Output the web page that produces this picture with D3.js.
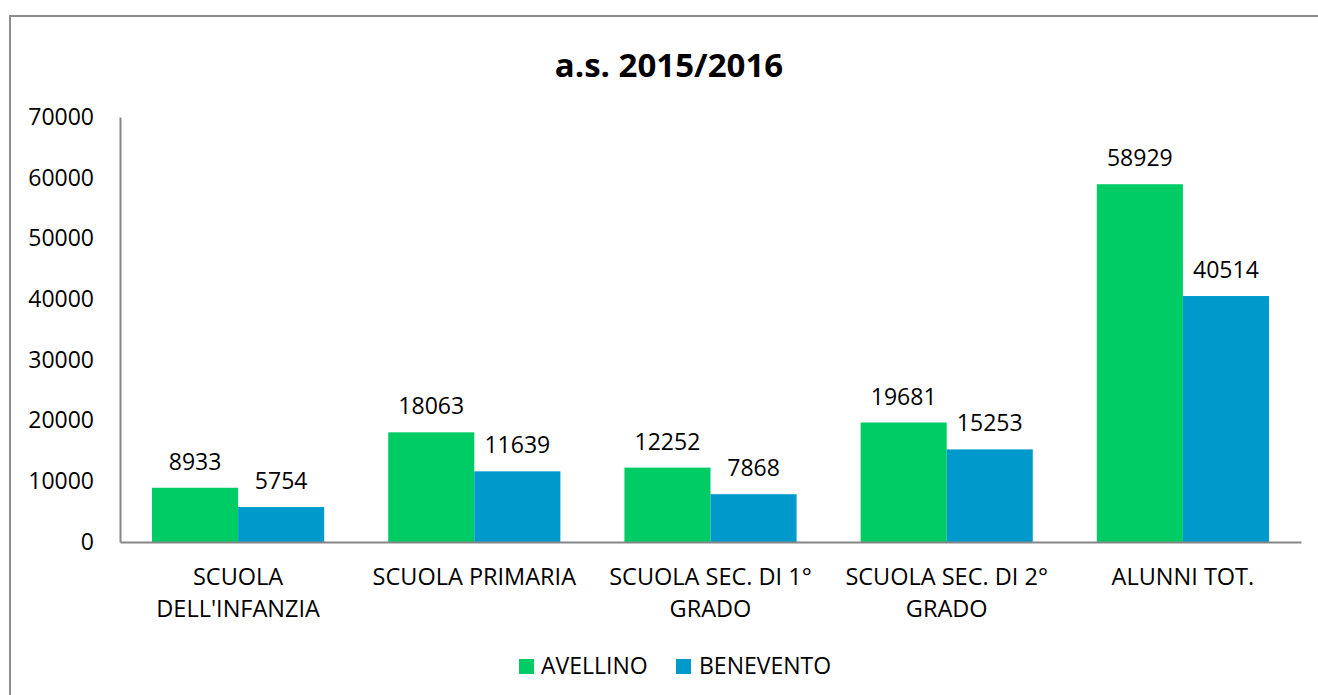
<!DOCTYPE html>
<html>
<head>
<meta charset="utf-8">
<script src="https://cdn.jsdelivr.net/npm/d3@7"></script>
<style>
  body { margin: 0; background: #fff; }
  svg text { font-family: "Open Sans", "Liberation Sans", sans-serif; fill: #000; }
</style>
</head>
<body>
<div id="wrapper"></div>
<script>
// data
const categories = [
  ["SCUOLA", "DELL'INFANZIA"],
  ["SCUOLA PRIMARIA"],
  ["SCUOLA SEC. DI 1°", "GRADO"],
  ["SCUOLA SEC. DI 2°", "GRADO"],
  ["ALUNNI TOT."],
];
const seriesNames = ["AVELLINO", "BENEVENTO"];
const avellino = [8933, 18063, 12252, 19681, 58929];
const benevento = [5754, 11639, 7868, 15253, 40514];
const yTicks = [0, 10000, 20000, 30000, 40000, 50000, 60000, 70000];
const title = "a.s. 2015/2016";

const colors = ["#00cc66", "#0099cc"];

function drawBars() {
  const width = 1318;
  const height = 695;
  const margin = { top: 117, right: 17, bottom: 153, left: 120 };
  const boundedWidth = width - margin.left - margin.right;
  const boundedHeight = height - margin.top - margin.bottom;

  const svg = d3
    .select("#wrapper")
    .append("svg")
    .attr("width", width)
    .attr("height", height);

  // outer chart border
  svg
    .append("rect")
    .attr("x", 10)
    .attr("y", 16)
    .attr("width", 1330)
    .attr("height", 720)
    .attr("fill", "none")
    .attr("stroke", "#8c8c8c")
    .attr("stroke-width", 2);

  svg
    .append("text")
    .attr("x", 669)
    .attr("y", 77)
    .attr("text-anchor", "middle")
    .style("font-weight", "bold")
    .style("font-size", "33px")
    .text(title);

  const bounds = svg
    .append("g")
    .attr("transform", `translate(${margin.left}, ${margin.top})`);

  const xScale = d3
    .scaleBand()
    .domain(d3.range(categories.length))
    .range([0, boundedWidth]);

  const innerScale = d3
    .scaleBand()
    .domain(d3.range(seriesNames.length))
    .range([0, xScale.bandwidth()])
    .paddingOuter(0.372)
    .paddingInner(0);

  const yScale = d3.scaleLinear().domain([0, 70000]).range([boundedHeight, 0]);

  const rows = categories.map((c, i) => ({ i, values: [avellino[i], benevento[i]] }));

  const groups = bounds
    .selectAll(".group")
    .data(rows)
    .join("g")
    .attr("class", "group")
    .attr("transform", (d) => `translate(${xScale(d.i)}, 0)`);

  groups
    .selectAll("rect")
    .data((d) => d.values.map((v, s) => ({ v, s })))
    .join("rect")
    .attr("x", (d) => innerScale(d.s))
    .attr("y", (d) => yScale(d.v))
    .attr("width", innerScale.bandwidth())
    .attr("height", (d) => boundedHeight - yScale(d.v))
    .attr("fill", (d) => colors[d.s]);

  groups
    .selectAll(".value")
    .data((d) => d.values.map((v, s) => ({ v, s })))
    .join("text")
    .attr("class", "value")
    .attr("x", (d) => innerScale(d.s) + innerScale.bandwidth() / 2)
    .attr("y", (d) => yScale(d.v) - 18)
    .attr("text-anchor", "middle")
    .style("font-size", "23px")
    .text((d) => d.v);

  // y axis
  const yAxis = bounds
    .append("g")
    .call(d3.axisLeft(yScale).tickValues(yTicks).tickSize(0).tickPadding(26).tickFormat(d3.format("d")));
  yAxis.select(".domain").attr("stroke", "#868686").attr("stroke-width", 2);
  yAxis.selectAll("text").style("font-size", "23px");

  // x axis
  const xAxis = bounds
    .append("g")
    .attr("transform", `translate(0, ${boundedHeight})`)
    .call(d3.axisBottom(xScale).tickSize(0).tickFormat(""));
  xAxis.select(".domain").attr("stroke", "#868686").attr("stroke-width", 2);

  xAxis
    .selectAll(".cat")
    .data(categories)
    .join("text")
    .attr("class", "cat")
    .attr("x", (d, i) => xScale(i) + xScale.bandwidth() / 2)
    .attr("y", 43)
    .attr("text-anchor", "middle")
    .style("font-size", "23.5px")
    .selectAll("tspan")
    .data((d) => d)
    .join("tspan")
    .attr("x", function () { return d3.select(this.parentNode).attr("x"); })
    .attr("dy", (d, j) => (j === 0 ? 0 : 32))
    .text((d) => d);

  // legend
  const legendItems = [
    { name: seriesNames[0], box: 519, text: 541 },
    { name: seriesNames[1], box: 676, text: 699 },
  ];
  const legend = svg.append("g");
  legend
    .selectAll("rect")
    .data(legendItems)
    .join("rect")
    .attr("x", (d) => d.box)
    .attr("y", 659)
    .attr("width", 15)
    .attr("height", 15)
    .attr("fill", (d, i) => colors[i]);
  legend
    .selectAll("text")
    .data(legendItems)
    .join("text")
    .attr("x", (d) => d.text)
    .attr("y", 674)
    .style("font-size", "23px")
    .text((d) => d.name);
}
drawBars();
</script>
</body>
</html>
